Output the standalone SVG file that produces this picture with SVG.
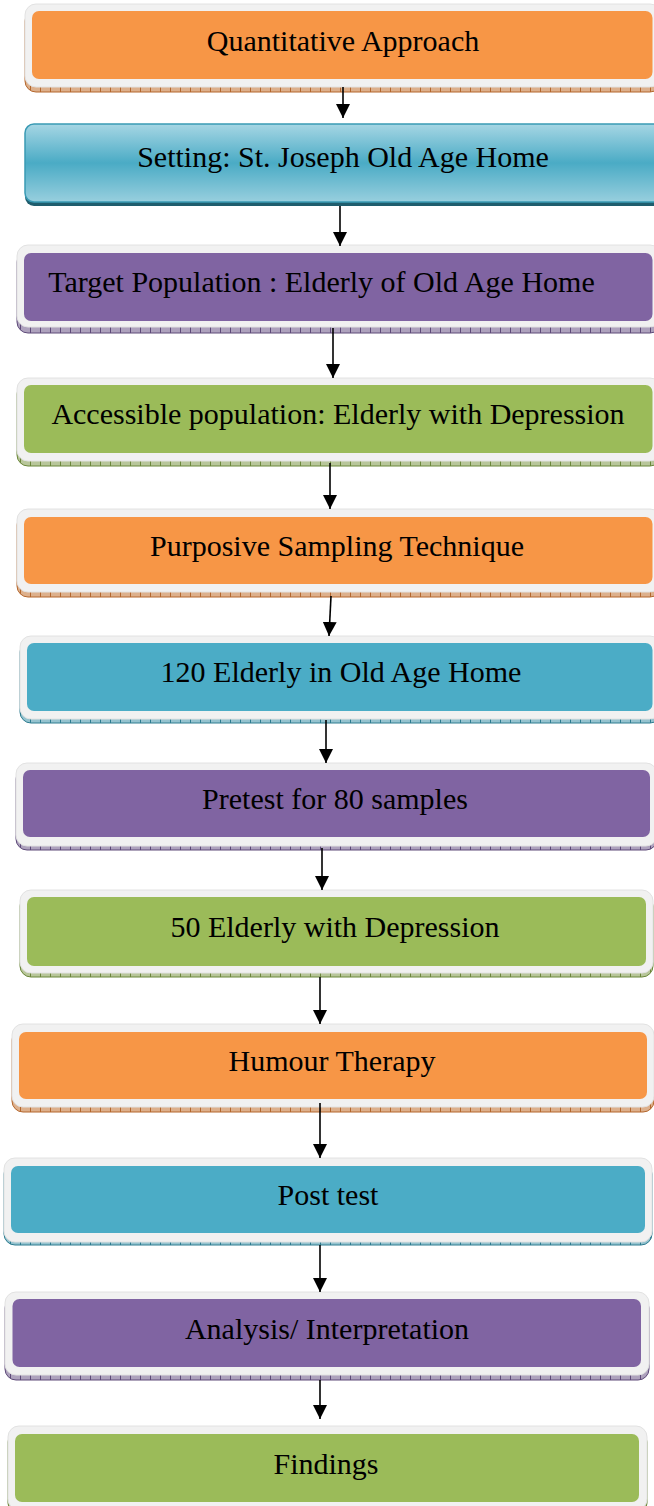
<svg xmlns="http://www.w3.org/2000/svg" width="654" height="1506" viewBox="0 0 654 1506">
<defs>
<pattern id="hO" width="10" height="10" patternUnits="userSpaceOnUse"><rect width="10" height="10" fill="#ddb08c"/><line x1="0.5" y1="0" x2="0.5" y2="10" stroke="#b4672d" stroke-width="1"/></pattern>
<pattern id="hP" width="10" height="10" patternUnits="userSpaceOnUse"><rect width="10" height="10" fill="#aea2bd"/><line x1="0.5" y1="0" x2="0.5" y2="10" stroke="#5e4a79" stroke-width="1"/></pattern>
<pattern id="hG" width="10" height="10" patternUnits="userSpaceOnUse"><rect width="10" height="10" fill="#b8c69a"/><line x1="0.5" y1="0" x2="0.5" y2="10" stroke="#6b873a" stroke-width="1"/></pattern>
<pattern id="hB" width="10" height="10" patternUnits="userSpaceOnUse"><rect width="10" height="10" fill="#95c3cf"/><line x1="0.5" y1="0" x2="0.5" y2="10" stroke="#2e7c90" stroke-width="1"/></pattern>
<linearGradient id="gB" x1="0" y1="0" x2="0" y2="1">
<stop offset="0" stop-color="#a6d6e4"/><stop offset="0.5" stop-color="#4aabc5"/><stop offset="1" stop-color="#98cfde"/>
</linearGradient>
<marker id="ah" markerUnits="userSpaceOnUse" markerWidth="14" markerHeight="14" refX="14" refY="7" orient="auto" viewBox="0 0 14 14">
<path d="M0,0 L14,7 L0,14 Z" fill="#000"/>
</marker>
</defs>
<style>
.fr{fill:#f1f1f1;stroke:#e2e2e2;stroke-width:1}
.o{fill:#f79646}.p{fill:#8064a2}.g{fill:#9bbb59}.b{fill:#4bacc6}
.sO{fill:url(#hO);stroke:#b4672d;stroke-width:1}
.sP{fill:url(#hP);stroke:#5e4a79;stroke-width:1}
.sG{fill:url(#hG);stroke:#6b873a;stroke-width:1}
.sB{fill:url(#hB);stroke:#2e7c90;stroke-width:1}
.t{font-family:"Liberation Serif","Times New Roman",serif;font-size:30px;fill:#000;text-anchor:middle}
.c{stroke:#000;stroke-width:1.6;fill:none}
</style>

<g id="n1">
<rect class="sO" x="25" y="10" width="636" height="82" rx="11"/>
<rect class="fr" x="25" y="4" width="636" height="83" rx="11"/>
<rect class="o" x="32" y="11" width="620.5" height="68" rx="7"/>
<text class="t" x="343" y="51">Quantitative Approach</text>
</g>

<g id="n2">
<rect x="25" y="128" width="640" height="78" rx="9" fill="#1f5d6d"/>
<rect x="25" y="124" width="640" height="78" rx="9" fill="url(#gB)" stroke="#3a9ab4" stroke-width="1.5"/>
<text class="t" x="343" y="167">Setting: St. Joseph Old Age Home</text>
</g>

<g id="n3">
<rect class="sP" x="17" y="251" width="644" height="82" rx="11"/>
<rect class="fr" x="17" y="245" width="644" height="82" rx="11"/>
<rect class="p" x="24" y="253" width="628.5" height="68" rx="7"/>
<text class="t" x="321.5" y="292">Target Population : Elderly of Old Age Home</text>
</g>

<g id="n4">
<rect class="sG" x="17" y="383" width="644" height="83" rx="11"/>
<rect class="fr" x="17" y="378" width="644" height="83" rx="11"/>
<rect class="g" x="24" y="385" width="628.5" height="68" rx="7"/>
<text class="t" x="338" y="424">Accessible population: Elderly with Depression</text>
</g>

<g id="n5">
<rect class="sO" x="17" y="514" width="644" height="83" rx="11"/>
<rect class="fr" x="17" y="509" width="644" height="83" rx="11"/>
<rect class="o" x="24" y="517" width="628.5" height="67" rx="7"/>
<text class="t" x="337" y="556">Purposive Sampling Technique</text>
</g>

<g id="n6">
<rect class="sB" x="20" y="641" width="641" height="82" rx="11"/>
<rect class="fr" x="20" y="636" width="641" height="83" rx="11"/>
<rect class="b" x="27" y="643" width="625.5" height="68" rx="7"/>
<text class="t" x="341" y="682">120 Elderly in Old Age Home</text>
</g>

<g id="n7">
<rect class="sP" x="16" y="768" width="641" height="82" rx="11"/>
<rect class="fr" x="16" y="763" width="641" height="83" rx="11"/>
<rect class="p" x="23" y="770" width="627" height="67" rx="7"/>
<text class="t" x="335" y="809">Pretest for 80 samples</text>
</g>

<g id="n8">
<rect class="sG" x="20" y="895" width="633" height="82" rx="11"/>
<rect class="fr" x="20" y="890" width="633" height="83" rx="11"/>
<rect class="g" x="27" y="897" width="619" height="69" rx="7"/>
<text class="t" x="335" y="937">50 Elderly with Depression</text>
</g>

<g id="n9">
<rect class="sO" x="12" y="1029" width="642" height="83" rx="11"/>
<rect class="fr" x="12" y="1024" width="642" height="83" rx="11"/>
<rect class="o" x="19" y="1032" width="628" height="67" rx="7"/>
<text class="t" x="332" y="1071">Humour Therapy</text>
</g>

<g id="n10">
<rect class="sB" x="4" y="1163" width="648" height="82" rx="11"/>
<rect class="fr" x="4" y="1158" width="648" height="84" rx="11"/>
<rect class="b" x="11" y="1166" width="634" height="67" rx="7"/>
<text class="t" x="328" y="1205">Post test</text>
</g>

<g id="n11">
<rect class="sP" x="5" y="1297" width="644" height="83" rx="11"/>
<rect class="fr" x="5" y="1292" width="644" height="83" rx="11"/>
<rect class="p" x="12.5" y="1299" width="628.5" height="68" rx="7"/>
<text class="t" x="327" y="1339">Analysis/ Interpretation</text>
</g>

<g id="n12">
<rect class="sG" x="8" y="1431" width="639" height="83" rx="11"/>
<rect class="fr" x="8" y="1426" width="639" height="84" rx="11"/>
<rect class="g" x="15" y="1434" width="624" height="68" rx="7"/>
<text class="t" x="326" y="1474">Findings</text>
</g>

<g id="connectors">
<line class="c" x1="343" y1="87" x2="343" y2="118" marker-end="url(#ah)"/>
<line class="c" x1="340" y1="206" x2="340" y2="246" marker-end="url(#ah)"/>
<line class="c" x1="333" y1="328" x2="333" y2="378" marker-end="url(#ah)"/>
<line class="c" x1="330" y1="463" x2="330" y2="509" marker-end="url(#ah)"/>
<line class="c" x1="331" y1="596" x2="329" y2="636" marker-end="url(#ah)"/>
<line class="c" x1="326" y1="720" x2="326" y2="763" marker-end="url(#ah)"/>
<line class="c" x1="322" y1="848" x2="322" y2="890" marker-end="url(#ah)"/>
<line class="c" x1="320" y1="977" x2="320" y2="1024" marker-end="url(#ah)"/>
<line class="c" x1="320" y1="1103" x2="320" y2="1158" marker-end="url(#ah)"/>
<line class="c" x1="320" y1="1245" x2="320" y2="1292" marker-end="url(#ah)"/>
<line class="c" x1="320" y1="1380" x2="320" y2="1419" marker-end="url(#ah)"/>
</g>
</svg>
